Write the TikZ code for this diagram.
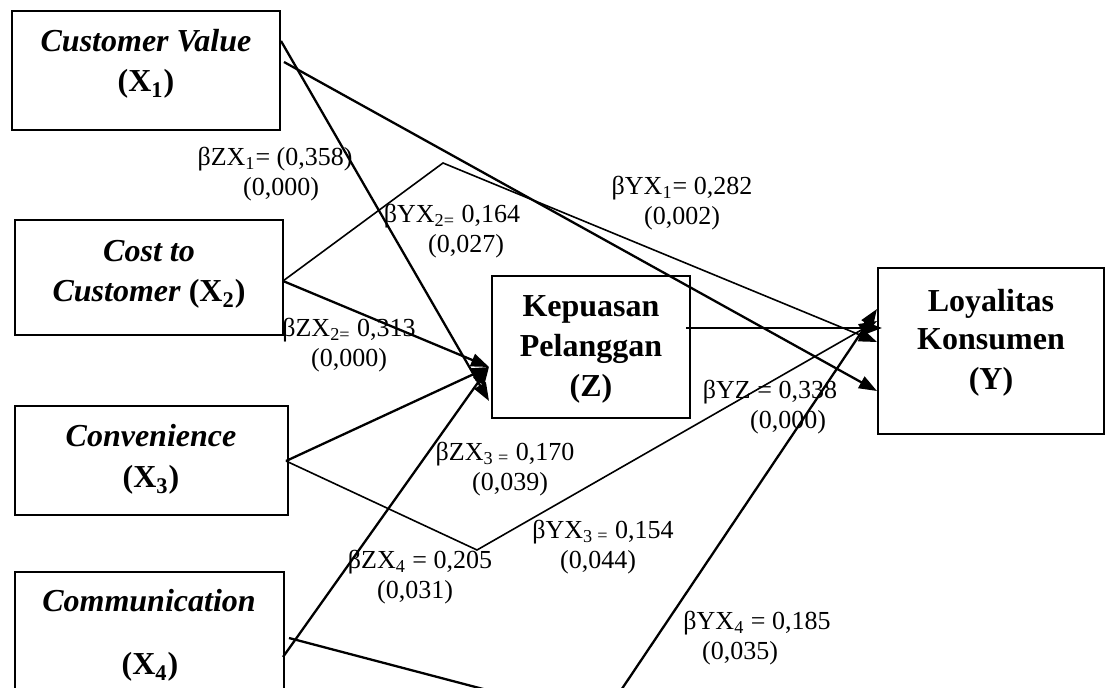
\documentclass[tikz,border=0pt]{standalone}
\usepackage{fontspec}
\setmainfont{Liberation Serif}
\usetikzlibrary{arrows.meta,calc}
\begin{document}
\begin{tikzpicture}[x=0.5pt,y=-0.5pt,
  box/.style={draw,line width=1pt,inner sep=0pt,rectangle},
  boxtext/.style={font=\fontsize{16}{20}\selectfont\bfseries,anchor=base,inner sep=0pt},
  lab/.style={font=\fontsize{13}{15}\selectfont,inner sep=0pt,align=center},
  conn/.style={line width=1.15pt,-{Triangle[length=9pt,width=6.5pt]}},
  thinconn/.style={line width=0.8pt,-{Triangle[length=9pt,width=6.5pt]}}]
\useasboundingbox (0,0) rectangle (1108,688);
\clip (0,0) rectangle (1108,688);

% boxes
\node[box,minimum width=134pt,minimum height=59.5pt] (x1) at (146,70.5) {};
\node[box,minimum width=134pt,minimum height=57.5pt] (x2) at (149,277.5) {};
\node[box,minimum width=136.5pt,minimum height=54.5pt] (x3) at (151.5,460.5) {};
\node[box,minimum width=134.5pt,minimum height=79pt] (x4) at (149.5,651) {};
\node[box,minimum width=99pt,minimum height=71pt] (z) at (591,347) {};
\node[box,minimum width=113pt,minimum height=83pt] (y) at (991,351) {};

% box texts
\node[boxtext] (t1a) at (146,52) {\textit{Customer Value}};
\node[boxtext] (t1b) at (146,92) {(X\textsubscript{1})};
\node[boxtext] (t2a) at (149,262) {\textit{Cost to}};
\node[boxtext] (t2b) at (149,302) {\textit{Customer} (X\textsubscript{2})};
\node[boxtext] (t3a) at (151,447) {\textit{Convenience}};
\node[boxtext] (t3b) at (151,488) {(X\textsubscript{3})};
\node[boxtext] (t4a) at (149,612) {\textit{Communication}};
\node[boxtext] (t4b) at (150,675) {(X\textsubscript{4})};
\node[boxtext] (tza) at (591,317) {Kepuasan};
\node[boxtext] (tzb) at (591,357) {Pelanggan};
\node[boxtext] (tzc) at (591,397) {(Z)};
\node[boxtext] (tya) at (991,312) {Loyalitas};
\node[boxtext] (tyb) at (991,350) {Konsumen};
\node[boxtext] (tyc) at (991,390) {(Y)};

% bend points
\coordinate (k2) at (443,163);
\coordinate (k3) at (477,550);
\coordinate (k4) at (601,720);

% connectors
\draw[conn] ($(x1.north east)+(0,31)$) -- ($(z.north west)+(-2,126)$);
\draw[conn] ($(x1.north east)+(3,52)$) -- ($(y.north west)+(0,124)$);
\draw[conn] ($(z.north east)+(-5,53)$) -- ($(y.north west)+(5,61)$);
\draw[thinconn] ($(x2.north east)+(-1,62)$) -- (k2) -- ($(y.north west)+(0,75)$);
\draw[conn] ($(x2.north east)+(-1,62)$) -- ($(z.north west)+(-2,92)$);
\draw[conn] ($(x3.north east)+(-3,56)$) -- ($(z.north west)+(-2,92)$);
\draw[thinconn] ($(x3.north east)+(-3,56)$) -- (k3) -- ($(y.north west)+(0,54)$);
\draw[conn] ($(x4.north east)+(-2,86)$) -- ($(z.north west)+(-2,92)$);
\draw[conn] ($(x4.north east)+(4,67)$) -- (k4) -- ($(y.north west)+(0,42)$);

% labels
\node[lab] (lzx1) at (275,174.5) {βZX\textsubscript{1}= (0,358)\\\hspace*{6pt}(0,000)};
\node[lab] (lyx1) at (682,203) {βYX\textsubscript{1}= 0,282\\(0,002)};
\node[lab] (lyx2) at (452,231) {βYX\textsubscript{2=} 0,164\\\hspace*{14pt}(0,027)};
\node[lab] (lzx2) at (349,345.5) {βZX\textsubscript{2=} 0,313\\(0,000)};
\node[lab] (lzx3) at (505,469) {βZX\textsubscript{3}\,\textsubscript{=} 0,170\\\hspace*{5pt}(0,039)};
\node[lab] (lyx3) at (603,547) {βYX\textsubscript{3}\,\textsubscript{=} 0,154\\(0,044)\hspace*{5pt}};
\node[lab] (lzx4) at (420,577.5) {βZX\textsubscript{4} = 0,205\\(0,031)\hspace*{5pt}};
\node[lab] (lyx4) at (757,638) {βYX\textsubscript{4} = 0,185\\(0,035)\hspace*{17pt}};
\node[lab] (lyz) at (770,407.5) {βYZ = 0,338\\\hspace*{18pt}(0,000)};
\end{tikzpicture}
\end{document}
